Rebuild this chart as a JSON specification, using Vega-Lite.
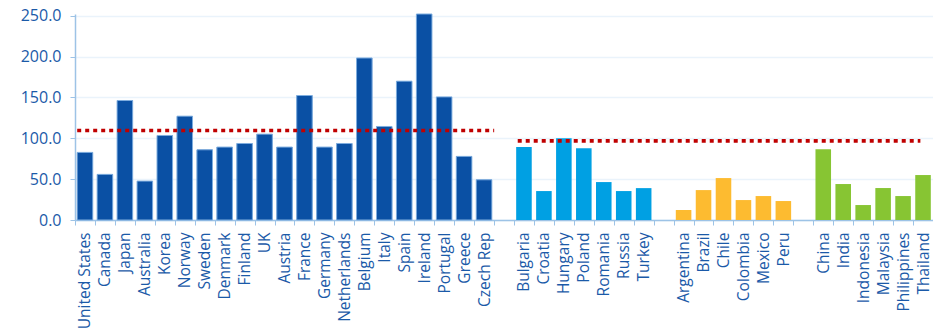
{
  "$schema": "https://vega.github.io/schema/vega-lite/v6.json",
  "width": 858,
  "height": 206,
  "autosize": "none",
  "padding": {"left": 75, "top": 14, "right": 0, "bottom": 111},
  "config": {
    "view": {"stroke": null},
    "font": "Open Sans"
  },
  "datasets": {
    "bars": [
      {"country": "United States", "region": "Advanced", "value": 82.7},
      {"country": "Canada", "region": "Advanced", "value": 55.8},
      {"country": "Japan", "region": "Advanced", "value": 146.2},
      {"country": "Australia", "region": "Advanced", "value": 47.6},
      {"country": "Korea", "region": "Advanced", "value": 103.4},
      {"country": "Norway", "region": "Advanced", "value": 127.0},
      {"country": "Sweden", "region": "Advanced", "value": 85.9},
      {"country": "Denmark", "region": "Advanced", "value": 89.2},
      {"country": "Finland", "region": "Advanced", "value": 93.6},
      {"country": "UK", "region": "Advanced", "value": 105.0},
      {"country": "Austria", "region": "Advanced", "value": 89.2},
      {"country": "France", "region": "Advanced", "value": 152.3},
      {"country": "Germany", "region": "Advanced", "value": 89.2},
      {"country": "Netherlands", "region": "Advanced", "value": 93.6},
      {"country": "Belgium", "region": "Advanced", "value": 198.2},
      {"country": "Italy", "region": "Advanced", "value": 114.4},
      {"country": "Spain", "region": "Advanced", "value": 169.8},
      {"country": "Ireland", "region": "Advanced", "value": 252.0},
      {"country": "Portugal", "region": "Advanced", "value": 150.6},
      {"country": "Greece", "region": "Advanced", "value": 77.8},
      {"country": "Czech Rep", "region": "Advanced", "value": 49.2},
      {"country": "Bulgaria", "region": "Emerging Europe", "value": 89.2},
      {"country": "Croatia", "region": "Emerging Europe", "value": 35.4},
      {"country": "Hungary", "region": "Emerging Europe", "value": 100.1},
      {"country": "Poland", "region": "Emerging Europe", "value": 87.9},
      {"country": "Romania", "region": "Emerging Europe", "value": 46.4},
      {"country": "Russia", "region": "Emerging Europe", "value": 35.4},
      {"country": "Turkey", "region": "Emerging Europe", "value": 39.0},
      {"country": "Argentina", "region": "Latin America", "value": 12.2},
      {"country": "Brazil", "region": "Latin America", "value": 36.6},
      {"country": "Chile", "region": "Latin America", "value": 51.3},
      {"country": "Colombia", "region": "Latin America", "value": 24.4},
      {"country": "Mexico", "region": "Latin America", "value": 29.3},
      {"country": "Peru", "region": "Latin America", "value": 23.2},
      {"country": "China", "region": "Asia", "value": 86.7},
      {"country": "India", "region": "Asia", "value": 44.0},
      {"country": "Indonesia", "region": "Asia", "value": 18.3},
      {"country": "Malaysia", "region": "Asia", "value": 39.1},
      {"country": "Philippines", "region": "Asia", "value": 29.3},
      {"country": "Thailand", "region": "Asia", "value": 55.0}
    ],
    "averages": [
      {"group": "Advanced", "from": "United States", "to": "Czech Rep", "avg": 109.5},
      {"group": "Emerging", "from": "Bulgaria", "to": "Thailand", "avg": 96.9}
    ]
  },
  "layer": [
    {
      "data": {"name": "bars"},
      "mark": {"type": "bar"},
      "encoding": {
        "x": {
          "field": "country",
          "type": "nominal",
          "scale": {
            "domain": ["United States", "Canada", "Japan", "Australia", "Korea", "Norway", "Sweden", "Denmark", "Finland", "UK", "Austria", "France", "Germany", "Netherlands", "Belgium", "Italy", "Spain", "Ireland", "Portugal", "Greece", "Czech Rep", " ", "Bulgaria", "Croatia", "Hungary", "Poland", "Romania", "Russia", "Turkey", "  ", "Argentina", "Brazil", "Chile", "Colombia", "Mexico", "Peru", "   ", "China", "India", "Indonesia", "Malaysia", "Philippines", "Thailand"],
            "paddingInner": 0.22,
            "paddingOuter": 0.11
          },
          "axis": {
            "title": null,
            "labelAngle": -90,
            "labelFontSize": 15.5,
            "labelColor": "#1B5AA8",
            "labelPadding": 7,
            "labelOverlap": false,
            "tickOffset": -10,
            "labelOffset": 10,
            "tickSize": 5,
            "tickColor": "#9DC3E6",
            "domainColor": "#9DC3E6",
            "domainWidth": 1.5,
            "grid": false
          }
        },
        "y": {
          "field": "value",
          "type": "quantitative",
          "scale": {"domain": [0, 252], "nice": false},
          "axis": {
            "title": null,
            "values": [0, 50, 100, 150, 200, 250],
            "format": ".1f",
            "labelFontSize": 16,
            "labelColor": "#1B5AA8",
            "labelPadding": 9,
            "tickSize": 5,
            "tickColor": "#9DC3E6",
            "domainColor": "#9DC3E6",
            "domainWidth": 1.5,
            "gridColor": "#EAF3FB",
            "gridWidth": 1.5
          }
        },
        "color": {
          "field": "region",
          "type": "nominal",
          "scale": {
            "domain": ["Advanced", "Emerging Europe", "Latin America", "Asia"],
            "range": ["#0A50A4", "#00A0E3", "#FDBB30", "#87C533"]
          },
          "legend": null
        }
      }
    },
    {
      "data": {"name": "bars"},
      "transform": [{"filter": "datum.region == 'Advanced'"}],
      "mark": {"type": "bar", "fill": "#0A50A4", "stroke": "#7FAEDF", "strokeWidth": 1},
      "encoding": {
        "x": {"field": "country", "type": "nominal"},
        "y": {"field": "value", "type": "quantitative"}
      }
    },
    {
      "data": {"name": "averages"},
      "transform": [{"filter": "datum.group == 'Advanced'"}],
      "mark": {"type": "rule", "color": "#C00000", "strokeWidth": 3.7, "strokeDash": [4, 4]},
      "encoding": {
        "x": {"field": "from", "type": "nominal", "bandPosition": 0},
        "x2": {"field": "to", "bandPosition": 1.15},
        "y": {"field": "avg", "type": "quantitative"}
      }
    },
    {
      "data": {"name": "averages"},
      "transform": [{"filter": "datum.group == 'Emerging'"}],
      "mark": {"type": "rule", "color": "#C00000", "strokeWidth": 3.7, "strokeDash": [4, 4]},
      "encoding": {
        "x": {"field": "from", "type": "nominal", "bandPosition": 0.1},
        "x2": {"field": "to", "bandPosition": 0.33},
        "y": {"field": "avg", "type": "quantitative"}
      }
    }
  ]
}
